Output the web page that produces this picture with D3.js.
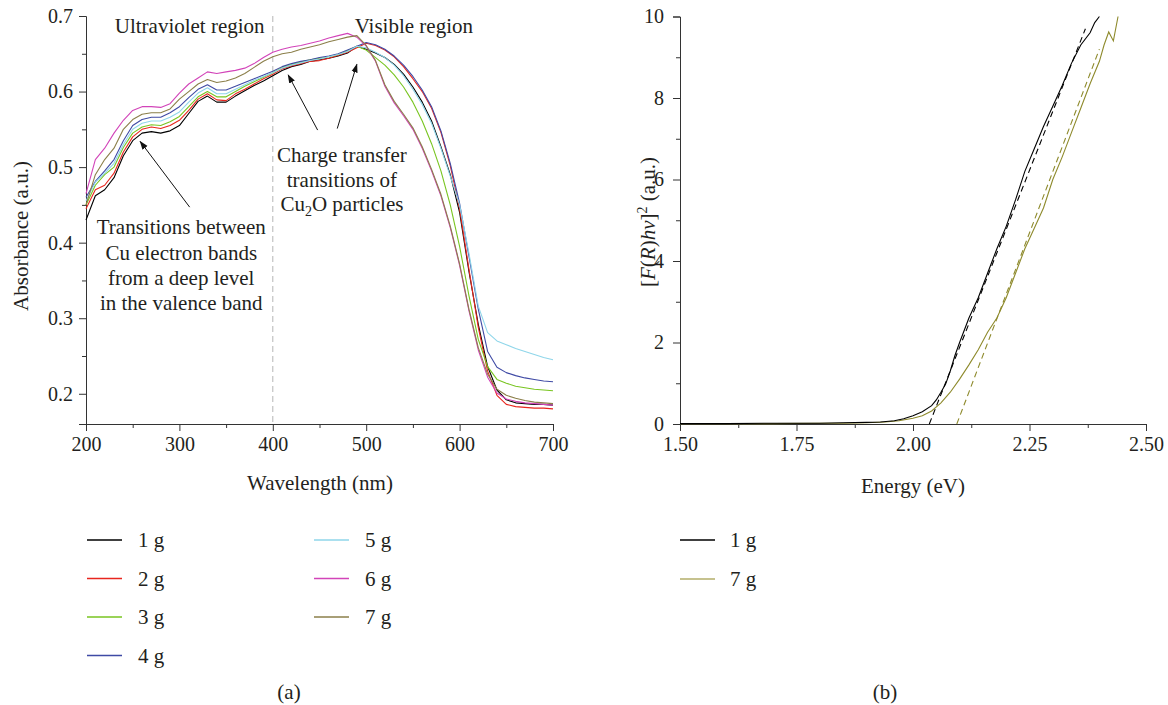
<!DOCTYPE html>
<html>
<head>
<meta charset="utf-8">
<script src="https://cdn.jsdelivr.net/npm/d3@7"></script>
<style>
  body { margin: 0; background: #fff; }
  svg { display: block; font-family: "Liberation Serif", "DejaVu Serif", serif; }
  .axis path, .axis line { stroke: #333; }
  .axis text { font-family: "Liberation Serif", "DejaVu Serif", serif; font-size: 20px; fill: #231f20; }
</style>
</head>
<body>
<svg id="chart" width="1168" height="705"></svg>
<script>
// ---------- data, panel (a) ----------
const wavelength = [200,210,220,230,240,250,260,270,280,290,300,310,320,330,340,350,360,370,380,390,
  400,410,420,430,440,450,460,470,480,490,500,510,520,530,540,550,560,570,580,590,
  600,610,620,630,640,650,660,670,680,690,700];

const abs1g = [0.430,0.462,0.470,0.486,0.515,0.535,0.545,0.547,0.545,0.548,0.555,0.571,0.587,0.594,0.586,0.586,0.594,0.601,0.608,0.614,
  0.621,0.628,0.633,0.636,0.640,0.642,0.644,0.647,0.651,0.660,0.656,0.651,0.645,0.636,0.623,0.606,0.586,0.561,0.527,0.490,
  0.440,0.362,0.292,0.236,0.205,0.192,0.188,0.187,0.186,0.186,0.185];
const abs2g = [0.445,0.470,0.476,0.492,0.520,0.540,0.550,0.553,0.551,0.555,0.562,0.575,0.590,0.597,0.589,0.588,0.597,0.603,0.610,0.617,
  0.623,0.630,0.634,0.637,0.640,0.641,0.644,0.648,0.652,0.658,0.664,0.661,0.655,0.646,0.633,0.617,0.600,0.578,0.546,0.502,
  0.445,0.365,0.288,0.230,0.198,0.186,0.183,0.182,0.181,0.181,0.180];
const abs3g = [0.450,0.476,0.490,0.500,0.526,0.545,0.553,0.556,0.555,0.560,0.567,0.580,0.593,0.600,0.593,0.593,0.600,0.607,0.613,0.619,
  0.625,0.632,0.636,0.639,0.642,0.644,0.646,0.649,0.654,0.660,0.655,0.645,0.635,0.622,0.606,0.586,0.561,0.531,0.495,0.450,
  0.395,0.330,0.272,0.236,0.219,0.214,0.210,0.208,0.206,0.205,0.204];
const abs4g = [0.460,0.481,0.495,0.510,0.535,0.555,0.563,0.566,0.566,0.572,0.580,0.592,0.603,0.609,0.602,0.602,0.607,0.612,0.617,0.622,
  0.627,0.633,0.637,0.640,0.642,0.645,0.647,0.650,0.655,0.660,0.665,0.662,0.656,0.647,0.635,0.620,0.602,0.580,0.548,0.505,
  0.452,0.382,0.312,0.256,0.235,0.228,0.224,0.221,0.219,0.217,0.216];
const abs5g = [0.455,0.480,0.492,0.505,0.530,0.550,0.558,0.561,0.561,0.566,0.573,0.586,0.598,0.605,0.597,0.597,0.603,0.609,0.615,0.620,
  0.625,0.631,0.635,0.638,0.641,0.643,0.646,0.649,0.653,0.660,0.658,0.652,0.645,0.635,0.621,0.603,0.583,0.558,0.525,0.488,
  0.450,0.386,0.316,0.281,0.270,0.265,0.260,0.256,0.252,0.248,0.245];
const abs6g = [0.465,0.510,0.525,0.545,0.562,0.575,0.580,0.580,0.579,0.584,0.598,0.610,0.618,0.626,0.624,0.626,0.628,0.631,0.637,0.645,
  0.652,0.656,0.659,0.661,0.664,0.667,0.671,0.674,0.677,0.672,0.660,0.640,0.607,0.585,0.568,0.550,0.525,0.495,0.462,0.420,
  0.370,0.310,0.258,0.222,0.201,0.193,0.190,0.188,0.187,0.186,0.185];
const abs7g = [0.450,0.490,0.510,0.525,0.550,0.563,0.570,0.572,0.572,0.577,0.590,0.600,0.610,0.616,0.612,0.614,0.618,0.624,0.632,0.640,
  0.646,0.650,0.652,0.656,0.659,0.662,0.666,0.669,0.672,0.674,0.661,0.641,0.609,0.587,0.570,0.552,0.527,0.497,0.464,0.422,
  0.372,0.312,0.261,0.226,0.206,0.198,0.194,0.191,0.189,0.188,0.187];

const seriesA = ["1 g","2 g","3 g","4 g","5 g","6 g","7 g"];
const valuesA = [abs1g, abs2g, abs3g, abs4g, abs5g, abs6g, abs7g];
const colorsA = ["#000000","#e8261e","#79c521","#3f4aa5","#8fd6ea","#d244b9","#8b7f4a"];

const xTicksA = [200,300,400,500,600,700];
const yTicksA = [0.2,0.3,0.4,0.5,0.6,0.7];

// ---------- data, panel (b) ----------
const energy1g = [1.50,1.60,1.70,1.80,1.85,1.90,1.93,1.96,1.98,2.00,2.02,2.04,2.05,2.06,2.07,2.08,2.09,2.10,2.12,2.14,
  2.16,2.18,2.20,2.22,2.24,2.26,2.28,2.30,2.32,2.34,2.36,2.38,2.39,2.40];
const tauc1g = [0.01,0.01,0.02,0.02,0.03,0.04,0.05,0.08,0.13,0.20,0.30,0.45,0.59,0.78,0.98,1.30,1.68,2.00,2.60,3.10,
  3.70,4.30,4.85,5.50,6.20,6.75,7.30,7.80,8.30,8.85,9.30,9.60,9.85,10.0];
const energy7g = [1.50,1.60,1.70,1.80,1.85,1.90,1.94,1.97,2.00,2.02,2.04,2.06,2.08,2.10,2.12,2.14,2.16,2.18,2.20,2.22,
  2.24,2.26,2.28,2.30,2.32,2.34,2.36,2.38,2.40,2.41,2.42,2.43,2.44];
const tauc7g = [0.01,0.01,0.01,0.02,0.02,0.03,0.05,0.08,0.14,0.20,0.32,0.52,0.78,1.10,1.45,1.82,2.25,2.60,3.10,3.70,
  4.30,4.80,5.30,6.00,6.55,7.15,7.75,8.35,8.90,9.30,9.62,9.40,10.0];
// linear fits (x, y of both ends)
const fit1gE = [2.035, 2.37], fit1gY = [0, 9.7];
const fit7gE = [2.094, 2.40], fit7gY = [0, 9.2];

const seriesB = ["1 g","7 g"];
const colorsB = ["#000000","#8e8a2c"];
const xTicksB = [1.50,1.75,2.00,2.25,2.50];
const yTicksB = [0,2,4,6,8,10];

const svg = d3.select("#chart");
svg.append("rect").attr("width",1168).attr("height",705).attr("fill","#fff");

svg.append("defs").append("marker")
  .attr("id","arrow").attr("viewBox","0 0 10 10").attr("refX",9).attr("refY",5)
  .attr("markerWidth",9).attr("markerHeight",9).attr("orient","auto-start-reverse")
  .attr("markerUnits","userSpaceOnUse")
  .append("path").attr("d","M0,1.5 L10,5 L0,8.5 Z").attr("fill","#111");

// ================= panel (a) =================
const xA = d3.scaleLinear().domain([200,700]).range([86,553]);
const yA = d3.scaleLinear().domain([0.16,0.7]).range([424,16]);

// minor ticks first
svg.append("g").attr("class","axis").attr("transform","translate(0,424)")
  .call(d3.axisBottom(xA).tickValues([250,350,450,550,650]).tickSize(4).tickFormat(""))
  .call(g => g.select(".domain").remove());
svg.append("g").attr("class","axis").attr("transform","translate(86,0)")
  .call(d3.axisLeft(yA).tickValues([0.25,0.35,0.45,0.55,0.65]).tickSize(4).tickFormat(""))
  .call(g => g.select(".domain").remove());

svg.append("g").attr("class","axis").attr("transform","translate(0,424)")
  .call(d3.axisBottom(xA).tickValues(xTicksA).tickSizeOuter(0).tickSize(7).tickPadding(6).tickFormat(d3.format("d")));
svg.append("g").attr("class","axis").attr("transform","translate(86,0)")
  .call(d3.axisLeft(yA).tickValues(yTicksA).tickSizeOuter(0).tickSize(7).tickPadding(6).tickFormat(d3.format(".1f")));

// region divider
svg.append("line")
  .attr("x1",xA(400)).attr("x2",xA(400)).attr("y1",yA(0.7)).attr("y2",yA(0.16))
  .attr("stroke","#b5b5b5").attr("stroke-width",1).attr("stroke-dasharray","6,4");

const lineA = d3.line().x((d,i) => xA(wavelength[i])).y(d => yA(d));
valuesA.forEach((vals, k) => {
  svg.append("path").datum(vals)
    .attr("d", lineA).attr("fill","none")
    .attr("stroke", colorsA[k]).attr("stroke-width",1.1).attr("stroke-linejoin","round");
});

// annotations
const note = (x, y, txt) => svg.append("text").attr("x",x).attr("y",y).attr("dy","0.35em")
  .attr("text-anchor","middle").attr("font-size",21).attr("fill","#231f20").text(txt);
note(xA(311), 26, "Ultraviolet region");
note(xA(551), 26, "Visible region");
note(xA(474), 155, "Charge transfer");
note(xA(474), 180, "transitions of");
const cu = note(xA(474), 204, "Cu");
cu.append("tspan").attr("font-size",14).attr("dy","5").text("2");
cu.append("tspan").attr("dy","-5").text("O particles");
["Transitions between","Cu electron bands","from a deep level","in the valence band"]
  .forEach((t, i) => note(xA(302), 227 + i * 25.3, t));

const arrows = [
  [[311, 0.447], [258, 0.534]],
  [[448, 0.549], [416.5, 0.622]],
  [[469, 0.551], [490, 0.636]]
];
arrows.forEach(a => {
  svg.append("line")
    .attr("x1", xA(a[0][0])).attr("y1", yA(a[0][1]))
    .attr("x2", xA(a[1][0])).attr("y2", yA(a[1][1]))
    .attr("stroke","#111").attr("stroke-width",1).attr("marker-end","url(#arrow)");
});

svg.append("text").attr("x",320).attr("y",483).attr("dy","0.35em").attr("text-anchor","middle")
  .attr("font-size",21).attr("fill","#231f20").text("Wavelength (nm)");
svg.append("text").attr("transform","translate(21,236) rotate(-90)").attr("dy","0.35em")
  .attr("text-anchor","middle").attr("font-size",21).attr("fill","#231f20").text("Absorbance (a.u.)");

// legend (a)
seriesA.forEach((s, i) => {
  const col = i < 4 ? 0 : 1, row = i < 4 ? i : i - 4;
  const lx = col === 0 ? 87 : 314, ly = 540 + row * 38.5;
  svg.append("line").attr("x1",lx).attr("x2",lx + 35).attr("y1",ly).attr("y2",ly)
    .attr("stroke",colorsA[i]).attr("stroke-width",1.5);
  svg.append("text").attr("x",lx + 51).attr("y",ly).attr("dy","0.35em")
    .attr("font-size",21).attr("fill","#231f20").text(s);
});
svg.append("text").attr("x",289).attr("y",692).attr("dy","0.35em").attr("text-anchor","middle")
  .attr("font-size",21).attr("fill","#231f20").text("(a)");

// ================= panel (b) =================
const xB = d3.scaleLinear().domain([1.5,2.5]).range([680,1146]);
const yB = d3.scaleLinear().domain([0,10]).range([424,16.5]);

svg.append("g").attr("class","axis").attr("transform","translate(0,424)")
  .call(d3.axisBottom(xB).tickValues([1.625,1.875,2.125,2.375]).tickSize(4).tickFormat(""))
  .call(g => g.select(".domain").remove());
svg.append("g").attr("class","axis").attr("transform","translate(680,0)")
  .call(d3.axisLeft(yB).tickValues([1,3,5,7,9]).tickSize(4).tickFormat(""))
  .call(g => g.select(".domain").remove());

svg.append("g").attr("class","axis").attr("transform","translate(0,424)")
  .call(d3.axisBottom(xB).tickValues(xTicksB).tickSizeOuter(0).tickSize(7).tickPadding(6).tickFormat(d3.format(".2f")));
svg.append("g").attr("class","axis").attr("transform","translate(680,0)")
  .call(d3.axisLeft(yB).tickValues(yTicksB).tickSizeOuter(0).tickSize(7).tickPadding(9).tickFormat(d3.format("d")));

const drawB = (E, Y, color, dash) => {
  svg.append("path").datum(E.map((e, i) => [e, Y[i]]))
    .attr("d", d3.line().x(d => xB(d[0])).y(d => yB(d[1])))
    .attr("fill","none").attr("stroke",color).attr("stroke-width",1.1)
    .attr("stroke-dasharray", dash || null);
};
drawB(fit7gE, fit7gY, colorsB[1], "6,4");
drawB(fit1gE, fit1gY, colorsB[0], "6,4");
drawB(energy7g, tauc7g, colorsB[1]);
drawB(energy1g, tauc1g, colorsB[0]);

svg.append("text").attr("x",913).attr("y",486).attr("dy","0.35em").attr("text-anchor","middle")
  .attr("font-size",21).attr("fill","#231f20").text("Energy (eV)");

const yl = svg.append("text").attr("transform","translate(648,222) rotate(-90)").attr("dy","0.35em")
  .attr("text-anchor","middle").attr("font-size",21).attr("fill","#231f20");
yl.append("tspan").text("[");
yl.append("tspan").attr("font-style","italic").text("F");
yl.append("tspan").text("(");
yl.append("tspan").attr("font-style","italic").text("R");
yl.append("tspan").text(")");
yl.append("tspan").attr("font-style","italic").text("hν");
yl.append("tspan").text("]");
yl.append("tspan").attr("font-size",14).attr("dy","-8").text("2");
yl.append("tspan").attr("dy","8").text(" (a.u.)");

seriesB.forEach((s, i) => {
  const ly = 540 + i * 39;
  svg.append("line").attr("x1",680).attr("x2",715).attr("y1",ly).attr("y2",ly)
    .attr("stroke", i === 0 ? colorsB[0] : "#b3ae6a").attr("stroke-width",1.5);
  svg.append("text").attr("x",730).attr("y",ly).attr("dy","0.35em")
    .attr("font-size",21).attr("fill","#231f20").text(s);
});
svg.append("text").attr("x",885).attr("y",692).attr("dy","0.35em").attr("text-anchor","middle")
  .attr("font-size",21).attr("fill","#231f20").text("(b)");
</script>
</body>
</html>
